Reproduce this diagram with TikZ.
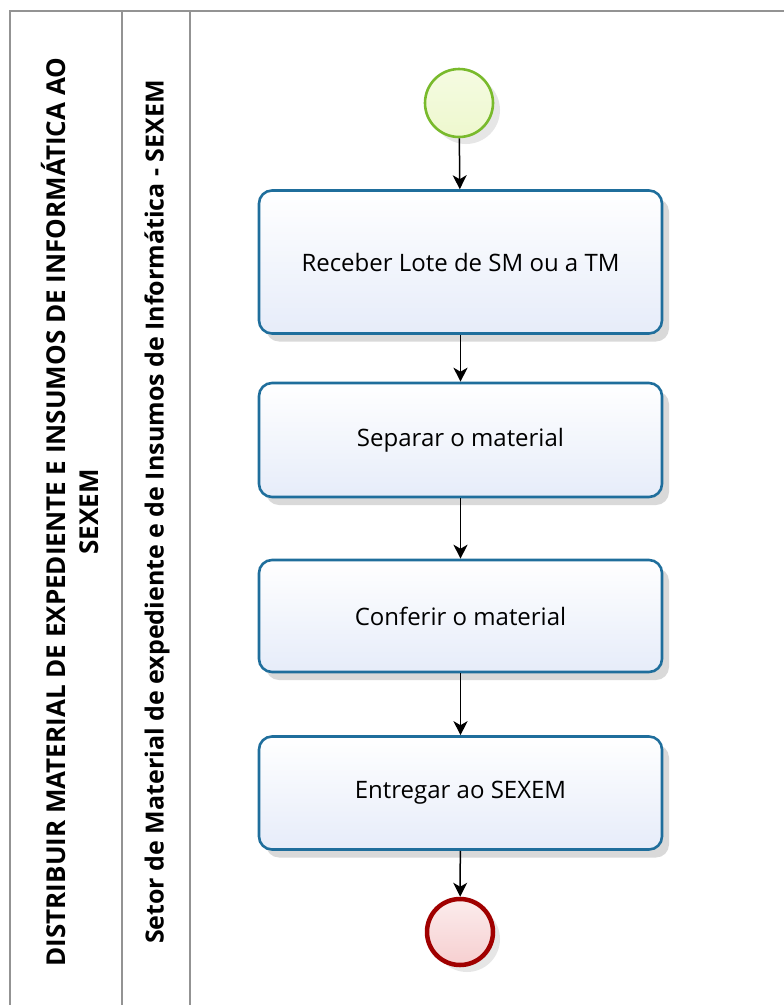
\documentclass[tikz,border=0pt]{standalone}
\usepackage{fontspec}
\setmainfont{Open Sans}
\usepackage{tikz}
\usepackage{xcolor}
\usetikzlibrary{positioning,arrows.meta,shadows}

\definecolor{taskblue}{HTML}{1F6E9C}
\definecolor{taskfill}{HTML}{E6ECF9}
\definecolor{startgreen}{HTML}{79BA2C}
\definecolor{startfill}{HTML}{EEF8CE}
\definecolor{endred}{HTML}{A00000}
\definecolor{endfill}{HTML}{F6CFD0}

\begin{document}
\begin{tikzpicture}[
          x=1pt, y=-1pt,
          lane/.style={draw=gray!85, line width=1.6pt},
          lbl/.style={font=\bfseries\fontsize{25}{33}\selectfont, rotate=90, align=center},
          task/.style={draw=taskblue, line width=2.6pt, rounded corners=13pt,
                       top color=white, bottom color=taskfill,
                       minimum width=403pt, font=\fontsize{24}{28}\selectfont,
                       drop shadow={opacity=0.3, shadow xshift=7pt, shadow yshift=-8pt}},
          startev/.style={circle, draw=startgreen, line width=2.6pt, minimum size=68pt,
                          top color=startfill!60!white, bottom color=startfill,
                          drop shadow={opacity=0.2, shadow xshift=7pt, shadow yshift=-7pt}},
          endev/.style={circle, draw=endred, line width=4.5pt, minimum size=66pt,
                        top color=endfill!40!white, bottom color=endfill,
                        drop shadow={opacity=0.2, shadow xshift=7pt, shadow yshift=-7pt}},
          flow/.style={-{Stealth[length=14pt, width=14pt, inset=4pt]}, line width=1.5pt}
      ]
        \useasboundingbox (0,0) rectangle (784,1005);
        % pool and lane
        \draw[lane] (784,11) -- (10,11) -- (10,1005);
        \draw[lane] (122,11) -- (122,1005);
        \draw[lane] (190,11) -- (190,1005);
        \node[lbl, font=\bfseries\fontsize{26}{33}\selectfont] (pool) at (70,512) {DISTRIBUIR MATERIAL DE EXPEDIENTE E INSUMOS DE INFORMÁTICA AO\\SEXEM};
        \node[lbl] (setor) at (157,512) {Setor de Material de expediente e de Insumos de Informática - SEXEM};
        % events and tasks
        \node[startev] (start) at (459,103) {};
        \node[task, minimum height=143pt] (receber) at (460.5,262) {Receber Lote de SM ou a TM};
        \node[task, minimum height=114pt] (separar) at (460.5,440) {Separar o material};
        \node[task, minimum height=112pt] (conferir) at (460.5,616) {Conferir o material};
        \node[task, minimum height=113pt] (entregar) at (460.5,793) {Entregar ao SEXEM};
        \node[endev] (fim) at (460,932) {};
        % sequence flows
        \draw[flow] (start) -- (receber);
        \draw[flow] (receber) -- (separar);
        \draw[flow] (separar) -- (conferir);
        \draw[flow] (conferir) -- (entregar);
        \draw[flow] (entregar) -- (fim);
      \end{tikzpicture}
\end{document}
